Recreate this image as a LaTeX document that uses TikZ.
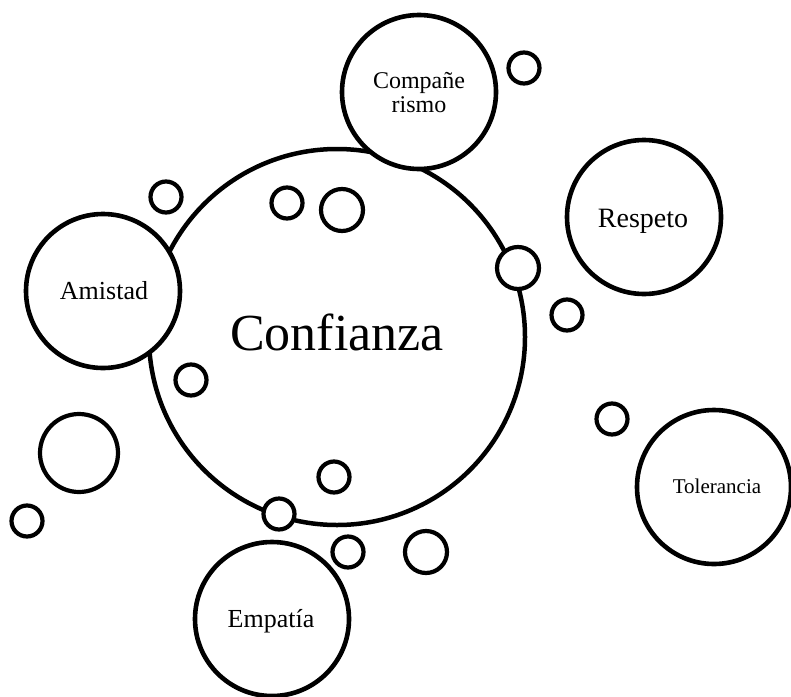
\documentclass[tikz,border=0pt]{standalone}
\usepackage{fontspec}
\setmainfont{Liberation Serif}
\begin{document}
\begin{tikzpicture}[x=1pt,y=-1pt,
  ring/.style={circle,draw=black,line width=4.2pt,fill=white,inner sep=0pt},
  hub/.style={ring,line width=4.5pt,minimum size=376pt},
  topic/.style={ring,line width=4.6pt,minimum size=154pt},
  bubble/.style={ring,minimum size=31pt},
  midbubble/.style={ring,minimum size=42pt},
  bigbubble/.style={ring,minimum size=78pt},
  lbl/.style={anchor=base,inner sep=0pt,align=center}]
\useasboundingbox (0,0) rectangle (791,696);

% central circle
\node[hub] (hub) at (337,337) {};

% small bubbles around the hub
\node[bubble]    (b1)  at (524,68)  {};
\node[bubble]    (b2)  at (166,197) {};
\node[bubble]    (b3)  at (287,203) {};
\node[midbubble] (b4)  at (342,210) {};
\node[midbubble] (b5)  at (518,268) {};
\node[bubble]    (b6)  at (567,315) {};
\node[bubble]    (b7)  at (191,380) {};
\node[bigbubble] (b8)  at (79,453)  {};
\node[bubble]    (b9)  at (612,419) {};
\node[bubble]    (b10) at (334,477) {};
\node[bubble]    (b11) at (279,514) {};
\node[bubble]    (b12) at (27,521)  {};
\node[bubble]    (b13) at (348,552) {};
\node[midbubble] (b14) at (426,552) {};

% value circles
\node[topic] (comp) at (419,92)  {};
\node[topic] (resp) at (644,217) {};
\node[topic] (amis) at (103,291) {};
\node[topic] (tole) at (714,487) {};
\node[topic] (empa) at (272,619) {};

% labels
\node[lbl,font=\fontsize{52}{56}\selectfont] (tconf) at (337,350) {Confianza};
\node[lbl,font=\fontsize{26}{28}\selectfont] (tamis) at (104,299) {Amistad};
\node[lbl,font=\fontsize{28}{30}\selectfont] (tresp) at (643,227) {Respeto};
\node[lbl,font=\fontsize{26}{28}\selectfont] (tempa) at (271,627) {Empatía};
\node[lbl,font=\fontsize{21}{23}\selectfont] (ttole) at (717,493) {Tolerancia};
\node[lbl,font=\fontsize{24}{24}\selectfont] (tcomp1) at (419,88)  {Compañe};
\node[lbl,font=\fontsize{24}{24}\selectfont] (tcomp2) at (419,112) {rismo};
\end{tikzpicture}
\end{document}
